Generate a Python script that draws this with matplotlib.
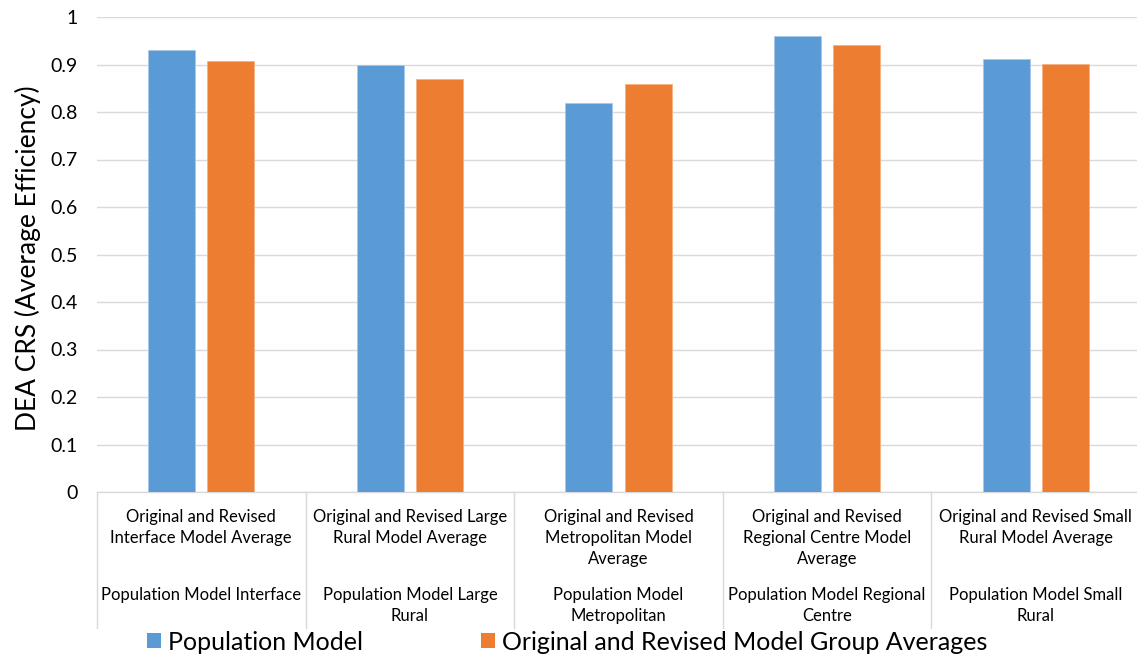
import matplotlib
matplotlib.use("Agg")
import matplotlib.pyplot as plt
import matplotlib.transforms as mtransforms
from matplotlib.patches import Patch
from matplotlib.lines import Line2D
import numpy as np

plt.rcParams['font.family'] = ['Lato', 'DejaVu Sans']

series_names = ["Population Model", "Original and Revised Model Group Averages"]
population = [0.931, 0.900, 0.820, 0.961, 0.911]
group_avg = [0.907, 0.869, 0.859, 0.942, 0.901]
top_labels = [
    "Original and Revised\nInterface Model Average",
    "Original and Revised Large\nRural Model Average",
    "Original and Revised\nMetropolitan Model\nAverage",
    "Original and Revised\nRegional Centre Model\nAverage",
    "Original and Revised Small\nRural Model Average",
]
bottom_labels = [
    "Population Model Interface",
    "Population Model Large\nRural",
    "Population Model\nMetropolitan",
    "Population Model Regional\nCentre",
    "Population Model Small\nRural",
]
yticks = [0, 0.1, 0.2, 0.3, 0.4, 0.5, 0.6, 0.7, 0.8, 0.9, 1]

blue = "#5b9bd5"
orange = "#ed7d31"

W, H = 1137, 659
fig = plt.figure(figsize=(W / 100, H / 100), dpi=100)
ax = fig.add_axes([97 / W, 1 - 492 / H, (1140 - 97) / W, (492 - 17) / H])

x = np.arange(len(population))
bw = 0.225
ax.bar(x - 0.142, population, width=bw, color=blue, edgecolor="#a9c8ea", linewidth=0.6, zorder=3)
ax.bar(x + 0.142, group_avg, width=bw, color=orange, edgecolor="#f4b183", linewidth=0.6, zorder=3)

ax.set_xlim(-0.5, len(population) - 0.5)
ax.set_ylim(0, 1)
ax.set_yticks(yticks)
ax.set_yticklabels([("%g" % v) for v in yticks], fontsize=14, color="#000000")
ax.yaxis.grid(True, color="#d9d9d9", linewidth=1, zorder=0)
ax.tick_params(axis="y", length=0, pad=14)
ax.set_xticks([])
for s in ["top", "right", "left"]:
    ax.spines[s].set_visible(False)
ax.spines["bottom"].set_color("#d9d9d9")
ax.spines["bottom"].set_linewidth(1)

fig.text(28 / W, 1 - 258 / H, "DEA CRS (Average Efficiency)", rotation=90,
         ha="center", va="center", fontsize=19)

# category separators below axis
trans = mtransforms.blended_transform_factory(ax.transData, fig.transFigure)
for b in np.arange(-0.5, len(population) + 0.5, 1.0):
    ax.add_line(Line2D([b, b], [1 - 492 / H, 1 - 628 / H], transform=trans,
                       color="#d9d9d9", linewidth=1, clip_on=False))

for i in range(len(population)):
    ax.text(x[i], 1 - 509 / H, top_labels[i], transform=trans, ha="center", va="top",
            fontsize=12, linespacing=1.4)
    ax.text(x[i], 1 - 587 / H, bottom_labels[i], transform=trans, ha="center", va="top",
            fontsize=12, linespacing=1.4)

handles = [Patch(facecolor=blue), Patch(facecolor=orange)]
fig.legend(handles, series_names, loc="center left", bbox_to_anchor=(147 / W, 1 - 642 / H),
           ncol=2, frameon=False, fontsize=18, handlelength=0.55, handleheight=0.55,
           handletextpad=0.3, columnspacing=4.7, borderaxespad=0, borderpad=0)

fig.savefig("out.png", dpi=100)
